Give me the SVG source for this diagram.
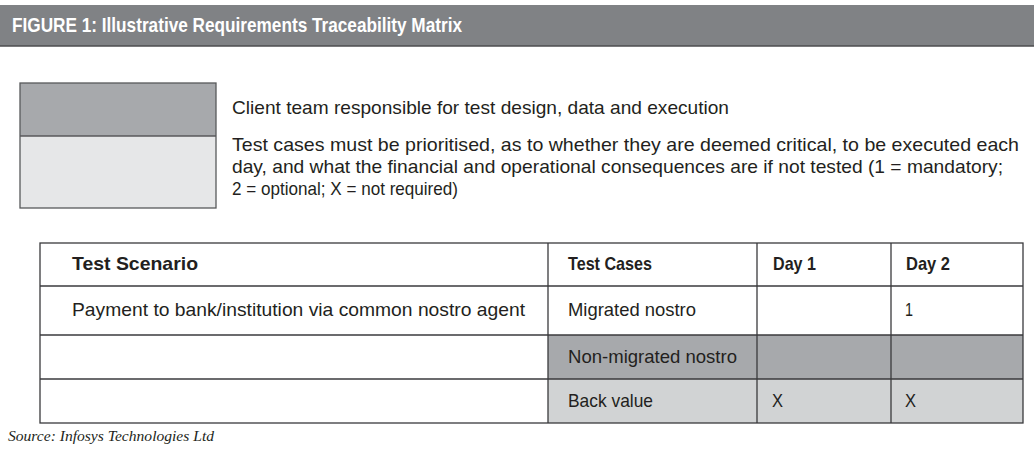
<svg xmlns="http://www.w3.org/2000/svg" width="1034" height="453" viewBox="0 0 1034 453">
<style>
  .t { font-family: "Liberation Sans Narrow", "Liberation Sans", Arial, sans-serif; font-size: 18.5px; fill: #231f20; }
  .b { font-weight: bold; }
  .title { font-family: "Liberation Sans Narrow", "Liberation Sans", Arial, sans-serif; font-size: 20.5px; font-weight: bold; fill: #ffffff; }
  .src { font-family: "Liberation Serif", "Times New Roman", serif; font-style: italic; font-size: 14px; fill: #231f20; }
  .grid { stroke: #3a3a3c; stroke-width: 1.3; fill: none; }
  .dark { fill: #a7a9ac; }
  .light { fill: #e6e7e8; }
  .mid { fill: #d1d3d4; }
</style>
<rect width="1034" height="453" fill="#ffffff"/>

<g id="header">
  <rect x="0" y="5" width="1034" height="41" fill="#808285"/>
  <line x1="0" y1="46" x2="1034" y2="46" stroke="#4d4d4f" stroke-width="1.5"/>
  <text class="title" x="12" y="32" textLength="450" lengthAdjust="spacingAndGlyphs">FIGURE 1: Illustrative Requirements Traceability Matrix</text>
</g>

<g id="legend">
  <rect class="dark" x="20" y="83" width="196" height="53"/>
  <rect class="light" x="20" y="136" width="196" height="72"/>
  <line x1="20" y1="136" x2="216" y2="136" stroke="#58595b" stroke-width="1.3"/>
  <rect x="20" y="83" width="196" height="125" fill="none" stroke="#58595b" stroke-width="1.3"/>
</g>

<g id="legend-text">
  <text class="t" x="232" y="114" textLength="497" lengthAdjust="spacingAndGlyphs">Client team responsible for test design, data and execution</text>
  <text class="t" x="232" y="151" textLength="787" lengthAdjust="spacingAndGlyphs">Test cases must be prioritised, as to whether they are deemed critical, to be executed each</text>
  <text class="t" x="232" y="173" textLength="771" lengthAdjust="spacingAndGlyphs">day, and what the financial and operational consequences are if not tested (1 = mandatory;</text>
  <text class="t" x="232" y="195" textLength="226" lengthAdjust="spacingAndGlyphs">2 = optional; X = not required)</text>
</g>

<g id="table">
  <g id="row-fills">
    <rect class="dark" x="548" y="335" width="475" height="44"/>
    <rect class="mid" x="548" y="379" width="475" height="44"/>
  </g>
  <g id="grid">
    <rect class="grid" x="40" y="243" width="983" height="180"/>
    <line class="grid" x1="40" y1="286" x2="1023" y2="286"/>
    <line class="grid" x1="40" y1="335" x2="1023" y2="335"/>
    <line class="grid" x1="40" y1="379" x2="1023" y2="379"/>
    <line class="grid" x1="548" y1="243" x2="548" y2="423"/>
    <line class="grid" x1="757" y1="243" x2="757" y2="423"/>
    <line class="grid" x1="891" y1="243" x2="891" y2="423"/>
  </g>
  <g id="header-row">
    <text class="t b" x="72" y="270" textLength="126" lengthAdjust="spacingAndGlyphs">Test Scenario</text>
    <text class="t b" x="568" y="270" textLength="84" lengthAdjust="spacingAndGlyphs">Test Cases</text>
    <text class="t b" x="773" y="270" textLength="43" lengthAdjust="spacingAndGlyphs">Day 1</text>
    <text class="t b" x="906" y="270" textLength="44" lengthAdjust="spacingAndGlyphs">Day 2</text>
  </g>
  <g id="row-migrated">
    <text class="t" x="72" y="316" textLength="453" lengthAdjust="spacingAndGlyphs">Payment to bank/institution via common nostro agent</text>
    <text class="t" x="568" y="316" textLength="128" lengthAdjust="spacingAndGlyphs">Migrated nostro</text>
    <text class="t" x="905" y="316" textLength="8" lengthAdjust="spacingAndGlyphs">1</text>
  </g>
  <g id="row-nonmigrated">
    <text class="t" x="568" y="363" textLength="169" lengthAdjust="spacingAndGlyphs">Non-migrated nostro</text>
  </g>
  <g id="row-backvalue">
    <text class="t" x="568" y="407" textLength="85" lengthAdjust="spacingAndGlyphs">Back value</text>
    <text class="t" x="772" y="407" textLength="11" lengthAdjust="spacingAndGlyphs">X</text>
    <text class="t" x="905" y="407" textLength="11" lengthAdjust="spacingAndGlyphs">X</text>
  </g>
</g>

<g id="connectors"></g>

<text class="src" x="8" y="441" textLength="206" lengthAdjust="spacingAndGlyphs">Source: Infosys Technologies Ltd</text>
</svg>
